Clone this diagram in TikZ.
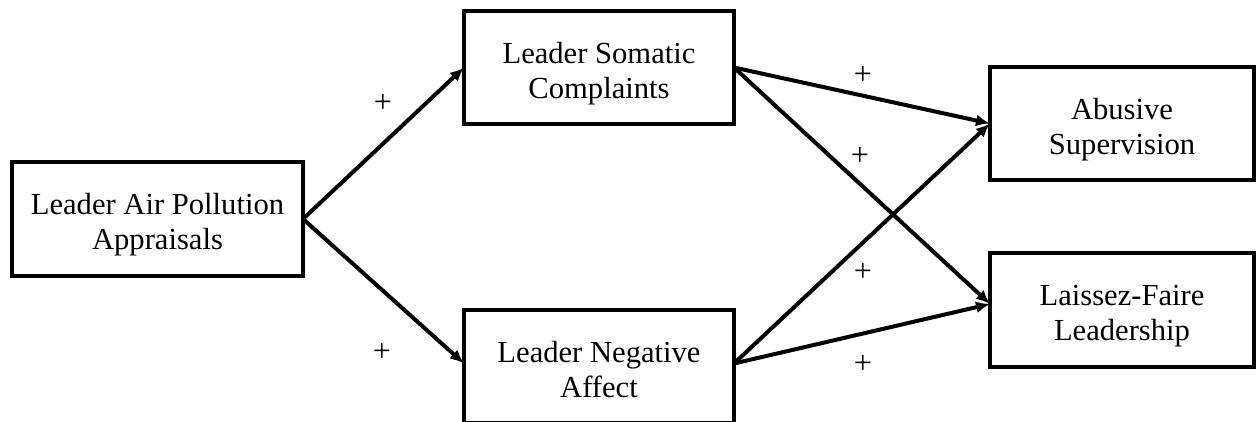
\documentclass[tikz,border=0pt]{standalone}
\usepackage{fontspec}
\setmainfont{Liberation Serif}
\usetikzlibrary{arrows.meta}
\newcommand{\boxtext}[1]{\raisebox{-12.6pt}[0pt][0pt]{\begin{tabular}{@{}c@{}}#1\end{tabular}}}
\begin{document}
\begin{tikzpicture}[x=1pt,y=-1pt,
  box/.style={draw, line width=4.5pt, rectangle, inner sep=0pt, outer sep=0pt, font=\fontsize{30.6}{35}\selectfont},
  conn/.style={line width=4pt, -{Latex[length=14pt,width=12pt]}},
  sign/.style={font=\fontsize{32}{32}\selectfont, inner sep=0pt}]
\useasboundingbox (0,0) rectangle (1256,421);
\clip (0,0) rectangle (1256,421);
\node[box, minimum width=291pt, minimum height=114pt] (air) at (157.5,219) {\boxtext{Leader Air Pollution\\Appraisals}};
\node[box, minimum width=270pt, minimum height=113pt] (som) at (599,67.5) {\boxtext{Leader Somatic\\Complaints}};
\node[box, minimum width=270pt, minimum height=113pt] (neg) at (599,366.5) {\boxtext{Leader Negative\\Affect}};
\node[box, minimum width=264pt, minimum height=113pt] (abu) at (1122,123.5) {\boxtext{Abusive\\Supervision}};
\node[box, minimum width=264pt, minimum height=114pt] (lai) at (1122,310) {\boxtext{Laissez-Faire\\Leadership}};
\draw[conn] (air.east) -- (som.west);
\draw[conn] (air.east) -- ([yshift=3pt]neg.west);
\draw[conn] (som.east) -- (abu.west);
\draw[conn] (som.east) -- ([yshift=6pt]lai.west);
\draw[conn] ([yshift=3pt]neg.east) -- (abu.west);
\draw[conn] ([yshift=3pt]neg.east) -- ([yshift=6pt]lai.west);
\node[sign] (p1) at (383,103) {+};
\node[sign] (p2) at (382,352) {+};
\node[sign] (p3) at (863,75) {+};
\node[sign] (p4) at (860,156) {+};
\node[sign] (p5) at (863,272) {+};
\node[sign] (p6) at (863,364) {+};
\end{tikzpicture}
\end{document}
